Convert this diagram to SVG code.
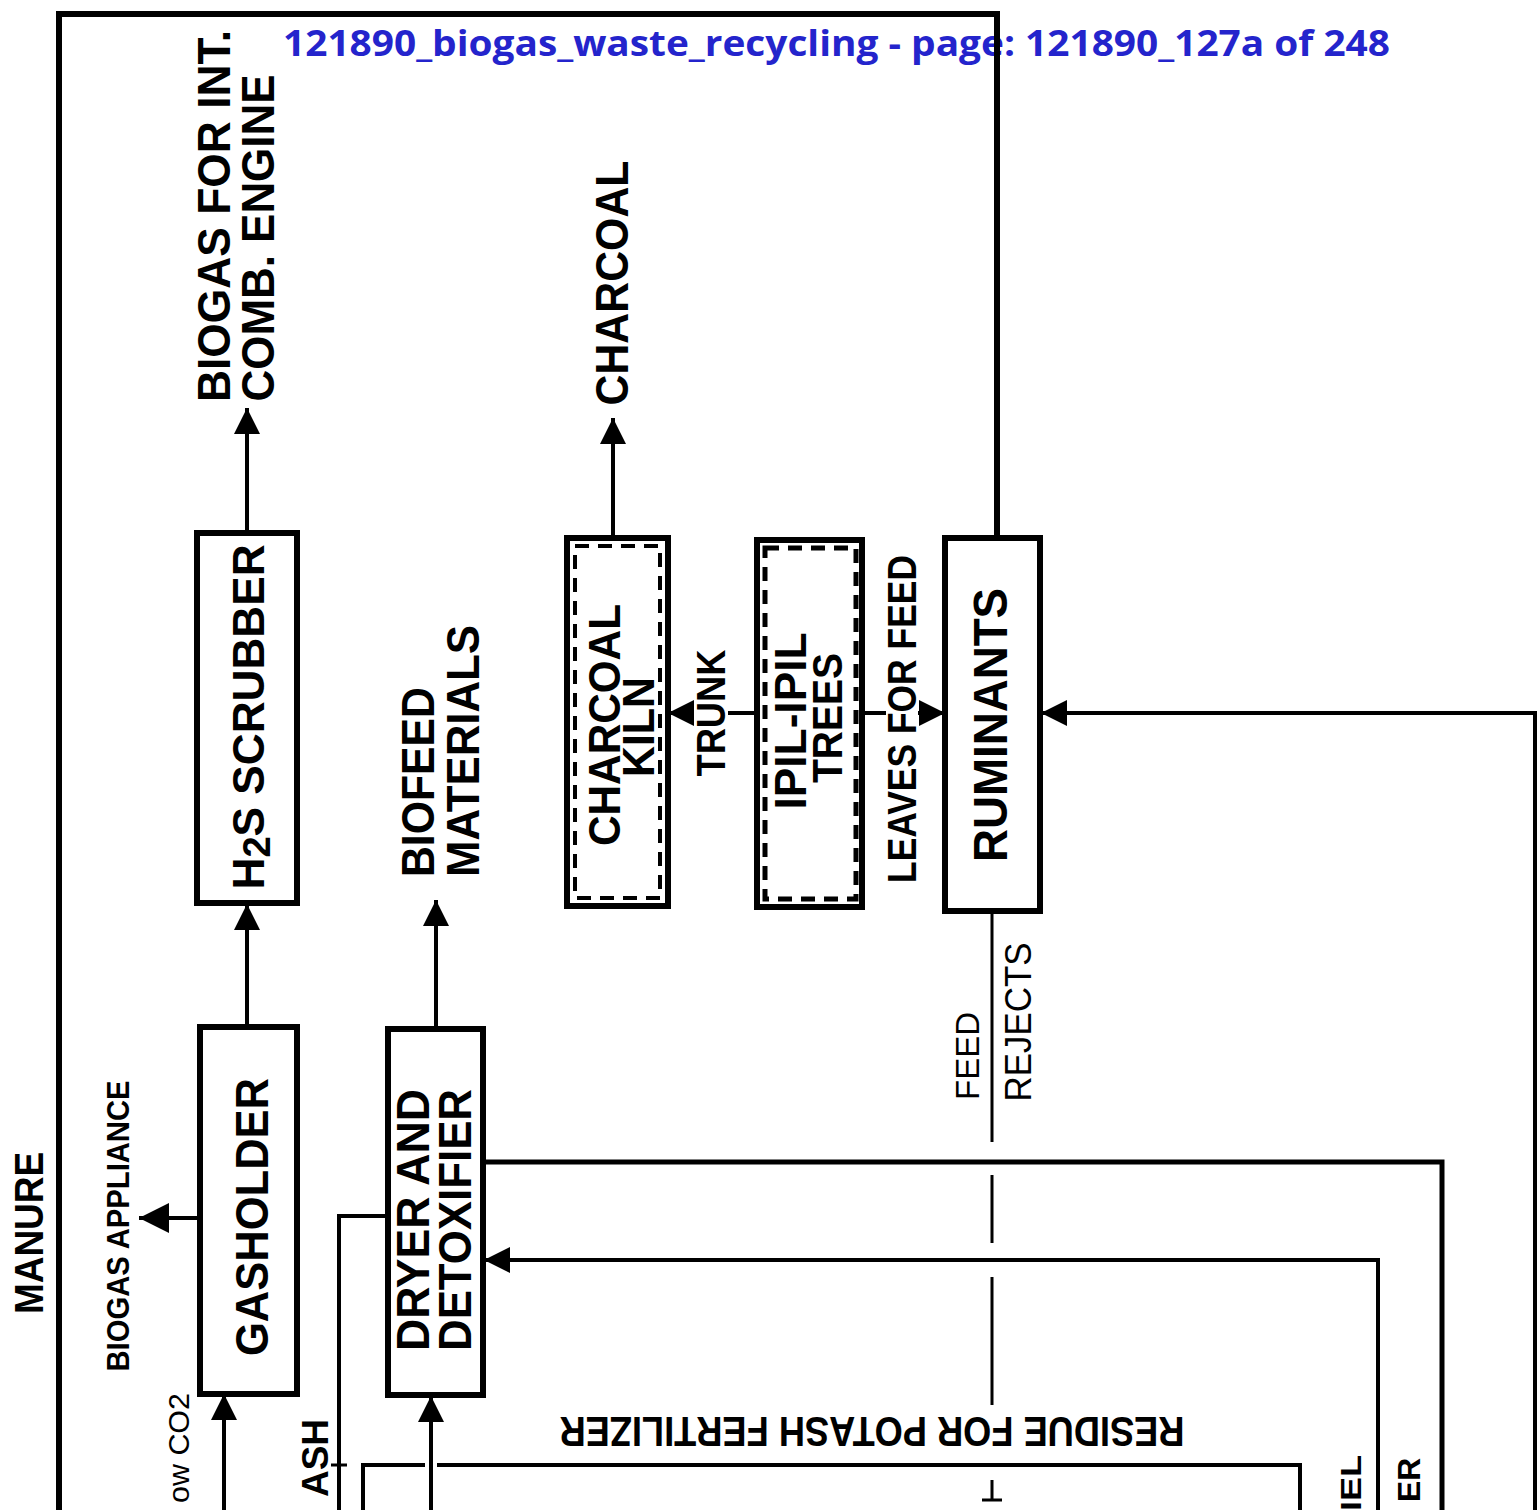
<svg xmlns="http://www.w3.org/2000/svg" width="1537" height="1510" viewBox="0 0 1537 1510">
<defs>
<style>
.bx{fill:#fff;stroke:#000;stroke-width:6}
.dash{fill:none;stroke:#000;stroke-width:4;stroke-dasharray:14 9}
.ln{fill:none;stroke:#000;stroke-width:4}
.thk{fill:none;stroke:#000;stroke-width:5}
.thin{fill:none;stroke:#000;stroke-width:3}
.t{font-family:"Liberation Sans",Arial,Helvetica,sans-serif;font-weight:bold;text-anchor:middle;dominant-baseline:central;fill:#000}
.r{font-weight:normal}
.title{font-family:"Open Sans","Noto Sans",sans-serif;font-weight:bold;fill:#2424cc;font-size:36px}
</style>
<marker id="ah" viewBox="0 0 10 10" refX="10" refY="5" markerWidth="26" markerHeight="26" markerUnits="userSpaceOnUse" orient="auto"><path d="M0,0 L10,5 L0,10 z" fill="#000"/></marker>
<marker id="ahL" viewBox="0 0 10 10" refX="10" refY="5" markerWidth="30" markerHeight="36" markerUnits="userSpaceOnUse" orient="auto"><path d="M0,0 L10,5 L0,10 z" fill="#000"/></marker>
</defs>
<rect x="0" y="0" width="1537" height="1510" fill="#fff"/>

<text class="title" x="283" y="56" textLength="1107" lengthAdjust="spacingAndGlyphs">121890_biogas_waste_recycling - page: 121890_127a of 248</text>

<g id="connectors">
<path d="M59,1510 L59,14 L997,14 L997,538" style="fill:none;stroke:#000;stroke-width:6"/>
<path class="ln" d="M247,533 L247,408" marker-end="url(#ah)"/>
<path class="ln" d="M247,1027 L247,904" marker-end="url(#ah)"/>
<path class="ln" d="M200,1218 L139,1218" marker-end="url(#ahL)"/>
<path class="ln" d="M224,1510 L224,1394" marker-end="url(#ah)"/>
<path class="ln" d="M613,538 L613,418" marker-end="url(#ah)"/>
<path class="ln" d="M436,1029 L436,900" marker-end="url(#ah)"/>
<path class="ln" d="M431,1510 L431,1396" marker-end="url(#ah)"/>
<path class="ln" d="M388,1216 L339,1216 L339,1510"/>
<path class="thin" d="M331,1465 L347,1465"/>
<path class="thk" d="M484,1162 L1442,1162 L1442,1510"/>
<path class="ln" d="M1378,1510 L1378,1260 L484,1260" marker-end="url(#ah)"/>
<path class="ln" d="M363,1510 L363,1465 L425,1465 M437,1465 L1300,1465 L1300,1510"/>
<path class="thin" d="M992,911 L992,1142 M992,1175 L992,1243 M992,1277 L992,1405 M992,1480 L992,1500 M982,1500 L1002,1500"/>
<path class="ln" d="M1535,1510 L1535,713 L1041,713" marker-end="url(#ah)"/>
<path class="ln" d="M756,713 L728,713"/>
<path class="ln" d="M694,713 L668,713" marker-end="url(#ah)"/>
<path class="ln" d="M863,713 L886,713"/>
<path class="ln" d="M918,713 L945,713" marker-end="url(#ah)"/>
</g>

<g id="scrubber">
<rect class="bx" x="197" y="533" width="100" height="370"/>
<text class="t" font-size="44" transform="translate(248,717) rotate(-90)" textLength="345" lengthAdjust="spacingAndGlyphs">H<tspan dy="9" font-size="38">2</tspan><tspan dy="-9">S SCRUBBER</tspan></text>
</g>
<g id="gasholder">
<rect class="bx" x="200" y="1027" width="97" height="367"/>
<text class="t" font-size="46" transform="translate(252,1217) rotate(-90)" textLength="278" lengthAdjust="spacingAndGlyphs">GASHOLDER</text>
</g>
<g id="dryer">
<rect class="bx" x="388" y="1029" width="95" height="366"/>
<text class="t" font-size="46" transform="translate(413,1220) rotate(-90)" textLength="262" lengthAdjust="spacingAndGlyphs">DRYER AND</text>
<text class="t" font-size="46" transform="translate(455,1220) rotate(-90)" textLength="262" lengthAdjust="spacingAndGlyphs">DETOXIFIER</text>
</g>
<g id="kiln">
<rect class="bx" x="567" y="538" width="101" height="368"/>
<rect class="dash" x="575" y="546" width="85" height="352"/>
<text class="t" font-size="44" transform="translate(604,725) rotate(-90)" textLength="242" lengthAdjust="spacingAndGlyphs">CHARCOAL</text>
<text class="t" font-size="44" transform="translate(638,727) rotate(-90)" textLength="100" lengthAdjust="spacingAndGlyphs">KILN</text>
</g>
<g id="trees">
<rect class="bx" x="757" y="540" width="105" height="367"/>
<rect class="dash" x="765" y="548" width="91" height="351" style="stroke-width:5"/>
<text class="t" font-size="44" transform="translate(790,721) rotate(-90)" textLength="177" lengthAdjust="spacingAndGlyphs">IPIL-IPIL</text>
<text class="t" font-size="42" transform="translate(827,718) rotate(-90)" textLength="130" lengthAdjust="spacingAndGlyphs">TREES</text>
</g>
<g id="ruminants">
<rect class="bx" x="945" y="538" width="95" height="373"/>
<text class="t" font-size="48" transform="translate(990,725) rotate(-90)" textLength="274" lengthAdjust="spacingAndGlyphs">RUMINANTS</text>
</g>

<g id="labels">
<text class="t" font-size="46" transform="translate(214,216) rotate(-90)" textLength="372" lengthAdjust="spacingAndGlyphs">BIOGAS FOR INT.</text>
<text class="t" font-size="46" transform="translate(258,238) rotate(-90)" textLength="327" lengthAdjust="spacingAndGlyphs">COMB. ENGINE</text>
<text class="t" font-size="46" transform="translate(612,283) rotate(-90)" textLength="245" lengthAdjust="spacingAndGlyphs">CHARCOAL</text>
<text class="t" font-size="46" transform="translate(418,782) rotate(-90)" textLength="190" lengthAdjust="spacingAndGlyphs">BIOFEED</text>
<text class="t" font-size="46" transform="translate(463,751) rotate(-90)" textLength="252" lengthAdjust="spacingAndGlyphs">MATERIALS</text>
<text class="t" font-size="40" transform="translate(711,713) rotate(-90)" textLength="127" lengthAdjust="spacingAndGlyphs">TRUNK</text>
<text class="t" font-size="40" transform="translate(902,719) rotate(-90)" textLength="328" lengthAdjust="spacingAndGlyphs">LEAVES FOR FEED</text>
<text class="t" font-size="32" transform="translate(118,1226) rotate(-90)" textLength="291" lengthAdjust="spacingAndGlyphs">BIOGAS APPLIANCE</text>
<text class="t" font-size="40" transform="translate(29,1233) rotate(-90)" textLength="162" lengthAdjust="spacingAndGlyphs">MANURE</text>
<text class="t" font-size="36" transform="translate(315,1458) rotate(-90)" textLength="78" lengthAdjust="spacingAndGlyphs">ASH</text>
<text class="t r" font-size="30" transform="translate(178,1448) rotate(-90)" textLength="110" lengthAdjust="spacingAndGlyphs">ow CO2</text>
<text class="t r" font-size="34" transform="translate(967,1056) rotate(-90)" textLength="88" lengthAdjust="spacingAndGlyphs">FEED</text>
<text class="t r" font-size="36" transform="translate(1018,1022) rotate(-90)" textLength="159" lengthAdjust="spacingAndGlyphs">REJECTS</text>
<text class="t" font-size="42" transform="translate(872,1431) rotate(180)" textLength="625" lengthAdjust="spacingAndGlyphs">RESIDUE FOR POTASH FERTILIZER</text>
<text class="t" font-size="30" transform="translate(1350,1483) rotate(-90)" textLength="56" lengthAdjust="spacingAndGlyphs">IEL</text>
<text class="t" font-size="32" transform="translate(1409,1480) rotate(-90)" textLength="44" lengthAdjust="spacingAndGlyphs">ER</text>
</g>
</svg>
